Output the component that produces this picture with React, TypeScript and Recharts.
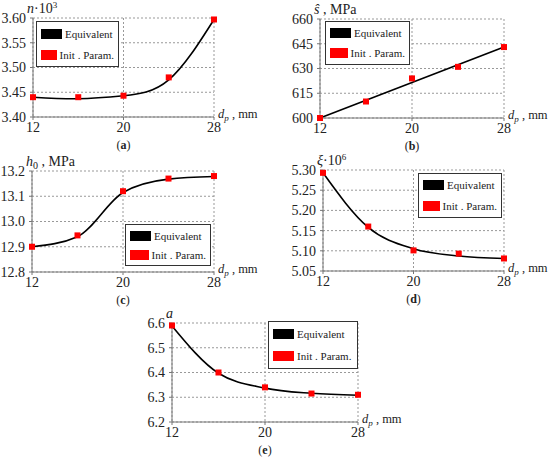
import React from "react";
import {
  ComposedChart,
  Line,
  Scatter,
  XAxis,
  YAxis,
  CartesianGrid,
} from "recharts";

// diameter of particles, mm
const dp = [12, 16, 20, 24, 28];
const dpTicks = [12, 20, 28];

// (a) n·10^3
const nInit = [3.44, 3.44, 3.443, 3.48, 3.597];
const nEquiv = [3.44, 3.437, 3.443, 3.475, 3.597];
const nTicks = [3.4, 3.45, 3.5, 3.55, 3.6];

// (b) s, MPa (straight line)
const sInit = [600, 610, 624, 631, 643];
const sEquivDp = [12, 28];
const sEquiv = [600, 643];
const sTicks = [600, 615, 630, 645, 660];

// (c) h0, MPa
const hInit = [12.9, 12.945, 13.12, 13.17, 13.18];
const hEquiv = [12.9, 12.94, 13.115, 13.168, 13.178];
const hTicks = [12.8, 12.9, 13.0, 13.1, 13.2];

// (d) xi·10^6
const xiInit = [5.293, 5.16, 5.101, 5.093, 5.081];
const xiEquiv = [5.293, 5.158, 5.105, 5.087, 5.081];
const xiTicks = [5.05, 5.1, 5.15, 5.2, 5.25, 5.3];

// (e) a
const aInit = [6.59, 6.4, 6.34, 6.315, 6.31];
const aEquiv = [6.588, 6.397, 6.337, 6.316, 6.308];
const aTicks = [6.2, 6.3, 6.4, 6.5, 6.6];

const FONT = '"Liberation Serif", "Times New Roman", Times, "DejaVu Serif", serif';
const Y_W = 45;
const M_TOP = 20;
const M_RIGHT = 60;
const X_H = 25;

const zip = (xs: number[], ys: number[]) =>
  xs.map((x, i) => ({ dp: x, v: ys[i] }));

const Square = (props: any) => {
  const { cx, cy } = props;
  if (cx == null || cy == null) return null;
  return <rect x={cx - 3} y={cy - 3} width={6} height={6} fill="#ff0000" />;
};

function LegendBox({ x, y, w, h }: { x: number; y: number; w: number; h: number }) {
  const row = (color: string, label: string) => (
    <div style={{ display: "flex", alignItems: "center", height: h / 2 - 2 }}>
      <div style={{ width: 21, height: 10, background: color, marginRight: 3 }} />
      <span style={{ fontSize: 11, color: "#222", whiteSpace: "nowrap", fontFamily: FONT }}>
        {label}
      </span>
    </div>
  );
  return (
    <div
      style={{
        position: "absolute",
        left: x,
        top: y,
        width: w,
        height: h,
        boxSizing: "border-box",
        border: "1.5px solid #333",
        background: "#fff",
        padding: "1px 4px",
        fontFamily: FONT,
      }}
    >
      {row("#000", "Equivalent")}
      {row("#ff0000", "Init . Param.")}
    </div>
  );
}

type PanelProps = {
  plot: [number, number, number, number]; // left, right, top, bottom
  init: number[];
  equivX: number[];
  equiv: number[];
  ticks: number[];
  digits: number;
  curve: "monotone" | "natural" | "linear";
  yLabel: React.ReactNode;
  legend: [number, number, number, number];
  caption: string;
};

function Panel({ plot, init, equivX, equiv, ticks, digits, curve, yLabel, legend, caption }: PanelProps) {
  const [l, r, t, b] = plot;
  const width = Y_W + (r - l) + M_RIGHT;
  const height = M_TOP + (b - t) + X_H;
  const left = l - Y_W;
  const top = t - M_TOP;
  return (
    <>
      <div style={{ position: "absolute", left, top }}>
        <ComposedChart
          width={width}
          height={height}
          margin={{ top: M_TOP, right: M_RIGHT, bottom: 0, left: 0 }}
          style={{ fontFamily: FONT }}
        >
          <CartesianGrid stroke="#999" strokeDasharray="2 2" />
          <XAxis
            type="number"
            dataKey="dp"
            domain={[12, 28]}
            ticks={dpTicks}
            interval={0}
            height={X_H}
            stroke="#777"
            tickSize={3}
            tick={{ fill: "#222", fontSize: 14, fontFamily: FONT }}
            label={{
              content: (p: any) => {
                const vb = p.viewBox;
                return (
                  <text x={vb.x + vb.width + 4} y={vb.y + 1} fontFamily={FONT} fontSize={12.5} fill="#222">
                    <tspan fontStyle="italic">d</tspan>
                    <tspan fontSize={9} fontStyle="italic" dy={3}>p</tspan>
                    <tspan dy={-3}> , mm</tspan>
                  </text>
                );
              },
            }}
          />
          <YAxis
            type="number"
            domain={[ticks[0], ticks[ticks.length - 1]]}
            ticks={ticks}
            interval={0}
            width={Y_W}
            stroke="#777"
            tickSize={3}
            tickMargin={4}
            tickFormatter={(v: number) => v.toFixed(digits)}
            tick={{ fill: "#222", fontSize: 14, fontFamily: FONT }}
            label={{
              content: (p: any) => {
                const vb = p.viewBox;
                return (
                  <text x={vb.x + vb.width - 6} y={vb.y - 5} fontFamily={FONT} fontSize={14} fill="#222">
                    {yLabel}
                  </text>
                );
              },
            }}
          />
          <Line
            data={zip(equivX, equiv)}
            dataKey="v"
            type={curve}
            stroke="#000"
            strokeWidth={1.6}
            dot={false}
            isAnimationActive={false}
          />
          <Scatter data={zip(dp, init)} dataKey="v" shape={Square} isAnimationActive={false} />
        </ComposedChart>
      </div>
      <LegendBox x={legend[0]} y={legend[1]} w={legend[2] - legend[0]} h={legend[3] - legend[1]} />
      <div
        style={{
          position: "absolute",
          left: (l + r) / 2 - 20,
          width: 40,
          top: b + 21,
          textAlign: "center",
          fontFamily: FONT,
          fontSize: 12,
          color: "#222",
        }}
      >
        (<b>{caption}</b>)
      </div>
    </>
  );
}

export default function App() {
  return (
    <div
      style={{
        position: "absolute",
        left: 0,
        top: 0,
        width: 550,
        height: 458,
        background: "#fff",
        overflow: "hidden",
        fontFamily: FONT,
      }}
    >
      <Panel
        plot={[33, 214, 18, 117]}
        init={nInit}
        equivX={dp}
        equiv={nEquiv}
        ticks={nTicks}
        digits={2}
        curve="natural"
        yLabel={
          <>
            <tspan fontStyle="italic">n</tspan>
            <tspan>·10</tspan>
            <tspan fontSize={9} dy={-5}>3</tspan>
          </>
        }
        legend={[36, 21, 119, 67]}
        caption="a"
      />
      <Panel
        plot={[320, 504, 19, 118]}
        init={sInit}
        equivX={sEquivDp}
        equiv={sEquiv}
        ticks={sTicks}
        digits={0}
        curve="linear"
        yLabel={
          <>
            <tspan fontStyle="italic">ŝ</tspan>
            <tspan> , MPa</tspan>
          </>
        }
        legend={[325, 21, 410, 65]}
        caption="b"
      />
      <Panel
        plot={[32, 214, 171, 272]}
        init={hInit}
        equivX={dp}
        equiv={hEquiv}
        ticks={hTicks}
        digits={1}
        curve="monotone"
        yLabel={
          <>
            <tspan fontStyle="italic">h</tspan>
            <tspan fontSize={10} dy={3}>0</tspan>
            <tspan dy={-3}> , MPa</tspan>
          </>
        }
        legend={[125, 224, 211, 266]}
        caption="c"
      />
      <Panel
        plot={[323, 504, 170, 271]}
        init={xiInit}
        equivX={dp}
        equiv={xiEquiv}
        ticks={xiTicks}
        digits={2}
        curve="monotone"
        yLabel={
          <>
            <tspan fontStyle="italic">ξ</tspan>
            <tspan>·10</tspan>
            <tspan fontSize={9} dy={-5}>6</tspan>
          </>
        }
        legend={[418, 173, 502, 218]}
        caption="d"
      />
      <Panel
        plot={[172, 358, 323, 422]}
        init={aInit}
        equivX={dp}
        equiv={aEquiv}
        ticks={aTicks}
        digits={1}
        curve="monotone"
        yLabel={<tspan fontStyle="italic">a</tspan>}
        legend={[268, 321, 358, 369]}
        caption="e"
      />
    </div>
  );
}
